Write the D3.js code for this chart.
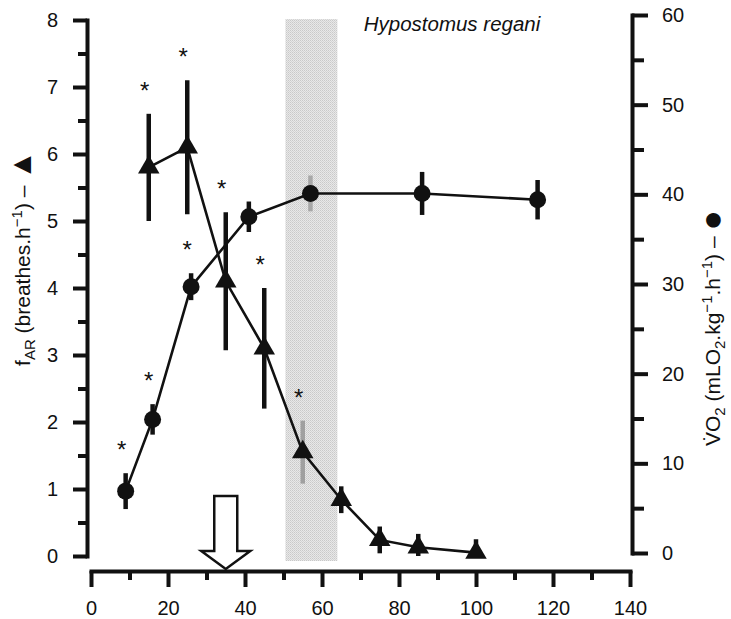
<!DOCTYPE html>
<html>
<head>
<meta charset="utf-8">
<script src="https://cdn.jsdelivr.net/npm/d3@7"></script>
<style>
  body { margin: 0; background: #fff; }
  text { font-family: "Liberation Sans", Arial, sans-serif; }
</style>
</head>
<body>
<script>
// fAR (triangles, left axis)
var farX   = [15, 25, 35, 45, 55, 65, 75, 85, 100];
var farY   = [5.8, 6.1, 4.1, 3.1, 1.55, 0.84, 0.24, 0.13, 0.05];
var farErr = [0.8, 1.0, 1.03, 0.9, 0.47, 0.2, 0.2, 0.2, 0.2];
var farSig = [1, 1, 1, 1, 1, 0, 0, 0, 0];

// VO2 (circles, right axis)
var vo2X   = [9, 16, 26, 41, 57, 86, 116];
var vo2Y   = [6.9, 14.9, 29.7, 37.5, 40.1, 40.1, 39.4];
var vo2Err = [2.0, 1.7, 1.5, 1.7, 2.0, 2.4, 2.2];
var vo2Sig = [1, 1, 1, 0, 0, 0, 0];

var band = [50.5, 64];   // shaded range on x
var arrowAt = 35;

var xTicks = [0, 20, 40, 60, 80, 100, 120, 140];
var xMinor = [10, 30, 50, 70, 90, 110, 130];
var leftTicks = [0, 1, 2, 3, 4, 5, 6, 7, 8];
var leftMinor = [0.5, 1.5, 2.5, 3.5, 4.5, 5.5, 6.5, 7.5];
var rightTicks = [0, 10, 20, 30, 40, 50, 60];
var rightMinor = [5, 15, 25, 35, 45, 55];

var width = 731, height = 619;
var ink = '#111';

var svg = d3.select('body').append('svg')
    .attr('width', width)
    .attr('height', height);

var x = d3.scaleLinear().domain([0, 140]).range([91, 630]);
var yL = d3.scaleLinear().domain([0, 8]).range([556, 20]);
var yR = d3.scaleLinear().domain([0, 60]).range([553, 15]);
var baseY = 571, leftX = 87, rightX = 632;

// stippled band
var pat = svg.append('defs').append('pattern')
    .attr('id', 'dots').attr('width', 2).attr('height', 2)
    .attr('patternUnits', 'userSpaceOnUse');
pat.append('rect').attr('width', 2).attr('height', 2).attr('fill', '#e8e8e8');
pat.append('rect').attr('width', 1).attr('height', 1).attr('fill', '#c9c9c9');
pat.append('rect').attr('x', 1).attr('y', 1).attr('width', 1).attr('height', 1).attr('fill', '#d4d4d4');

svg.append('rect')
    .attr('x', x(band[0]))
    .attr('y', yL(8) - 1)
    .attr('width', x(band[1]) - x(band[0]))
    .attr('height', yL(0) - yL(8) + 6)
    .attr('fill', 'url(#dots)');

// axes
function styleAxis(g) {
  g.select('.domain').attr('stroke', ink).attr('stroke-width', 4).attr('stroke-linecap', 'square');
  g.selectAll('.tick line').attr('stroke', ink).attr('stroke-width', 4);
  g.selectAll('.tick text').attr('font-size', 20).attr('fill', ink)
    .attr('font-family', '"Liberation Sans", Arial, sans-serif');
}
function minorAxis(g) {
  g.select('.domain').remove();
  g.selectAll('.tick line').attr('stroke', ink).attr('stroke-width', 4);
}

svg.append('g').attr('transform', 'translate(' + leftX + ',0)')
    .call(d3.axisLeft(yL).tickValues(leftMinor).tickSize(9).tickFormat(''))
    .call(minorAxis);
svg.append('g').attr('transform', 'translate(' + leftX + ',0)')
    .call(d3.axisLeft(yL).tickValues(leftTicks).tickSize(14).tickSizeOuter(0).tickPadding(15))
    .call(styleAxis);

svg.append('g').attr('transform', 'translate(' + rightX + ',0)')
    .call(d3.axisRight(yR).tickValues(rightMinor).tickSize(12).tickFormat(''))
    .call(minorAxis);
svg.append('g').attr('transform', 'translate(' + rightX + ',0)')
    .call(d3.axisRight(yR).tickValues(rightTicks).tickSize(16).tickSizeOuter(0).tickPadding(14))
    .call(styleAxis);

svg.append('g').attr('transform', 'translate(0,' + baseY + ')')
    .call(d3.axisBottom(x).tickValues(xMinor).tickSize(9).tickFormat(''))
    .call(minorAxis);
svg.append('g').attr('transform', 'translate(0,' + baseY + ')')
    .call(d3.axisBottom(x).tickValues(xTicks).tickSize(16).tickSizeOuter(0).tickPadding(14))
    .call(styleAxis);

// series tables
var far = farX.map(function(d, i) { return {x: d, y: farY[i], e: farErr[i], sig: farSig[i]}; });
var vo2 = vo2X.map(function(d, i) { return {x: d, y: vo2Y[i], e: vo2Err[i], sig: vo2Sig[i]}; });

function inBand(d) { return d.x > band[0] && d.x < band[1]; }

// error bars
svg.append('g').selectAll('line').data(far).enter().append('line')
    .attr('x1', function(d) { return x(d.x); })
    .attr('x2', function(d) { return x(d.x); })
    .attr('y1', function(d) { return yL(d.y + d.e); })
    .attr('y2', function(d) { return yL(Math.max(0, d.y - d.e)); })
    .attr('stroke', function(d) { return inBand(d) ? '#a0a0a0' : ink; })
    .attr('stroke-width', 4.5);

svg.append('g').selectAll('line').data(vo2).enter().append('line')
    .attr('x1', function(d) { return x(d.x); })
    .attr('x2', function(d) { return x(d.x); })
    .attr('y1', function(d) { return yR(d.y + d.e); })
    .attr('y2', function(d) { return yR(Math.max(0, d.y - d.e)); })
    .attr('stroke', function(d) { return inBand(d) ? '#a8a8a8' : ink; })
    .attr('stroke-width', 4.5);

// lines
svg.append('path').datum(far)
    .attr('fill', 'none').attr('stroke', ink).attr('stroke-width', 2.6)
    .attr('d', d3.line().x(function(d) { return x(d.x); }).y(function(d) { return yL(d.y); }));
svg.append('path').datum(vo2)
    .attr('fill', 'none').attr('stroke', ink).attr('stroke-width', 2.6)
    .attr('d', d3.line().x(function(d) { return x(d.x); }).y(function(d) { return yR(d.y); }));

// markers
svg.append('g').selectAll('path').data(far).enter().append('path')
    .attr('transform', function(d) { return 'translate(' + x(d.x) + ',' + yL(d.y) + ')'; })
    .attr('d', d3.symbol(d3.symbolTriangle, 200))
    .attr('fill', ink);
svg.append('g').selectAll('circle').data(vo2).enter().append('circle')
    .attr('cx', function(d) { return x(d.x); })
    .attr('cy', function(d) { return yR(d.y); })
    .attr('r', 8.5)
    .attr('fill', ink);

// significance asterisks
function star(sel, data, ys) {
  sel.selectAll('text').data(data.filter(function(d) { return d.sig; })).enter().append('text')
      .attr('x', function(d) { return x(d.x) - 4; })
      .attr('y', function(d) { return ys(d.y + d.e) - 15; })
      .attr('text-anchor', 'middle')
      .attr('font-size', 24)
      .attr('fill', ink)
      .text('*');
}
star(svg.append('g'), far, yL);
star(svg.append('g'), vo2, yR);

// open arrow
var ax = x(arrowAt);
svg.append('path')
    .attr('d', 'M' + (ax - 11.5) + ',' + (baseY - 75) + 'H' + (ax + 11.5) + 'V' + (baseY - 20) +
               'H' + (ax + 24.5) + 'L' + ax + ',' + (baseY - 2) + 'L' + (ax - 24.5) + ',' + (baseY - 20) +
               'H' + (ax - 11.5) + 'Z')
    .attr('fill', '#fff').attr('stroke', ink).attr('stroke-width', 2.5)
    .attr('stroke-linejoin', 'miter');

// title
svg.append('text')
    .attr('x', 452).attr('y', 31)
    .attr('text-anchor', 'middle')
    .attr('font-size', 20.5)
    .attr('font-style', 'italic')
    .attr('fill', ink)
    .text('Hypostomus regani');

// left axis label
var lt = svg.append('text')
    .attr('transform', 'translate(30,258) rotate(-90)')
    .attr('text-anchor', 'middle')
    .attr('font-size', 21)
    .attr('fill', ink);
lt.append('tspan').text('f');
lt.append('tspan').attr('dy', 5).attr('font-size', 15).text('AR');
lt.append('tspan').attr('dy', -5).text(' (breathes.h');
lt.append('tspan').attr('dy', -8).attr('font-size', 15).text('\u22121');
lt.append('tspan').attr('dy', 8).text(') \u2013 ');
lt.append('tspan').attr('font-size', 30).attr('dy', 1).text('\u25B2');

// right axis label
var rt = svg.append('text')
    .attr('transform', 'translate(720,328) rotate(-90)')
    .attr('text-anchor', 'middle')
    .attr('font-size', 21)
    .attr('fill', ink);
rt.append('tspan').text('V\u0307O');
rt.append('tspan').attr('dy', 5).attr('font-size', 15).text('2');
rt.append('tspan').attr('dy', -5).text(' (mLO');
rt.append('tspan').attr('dy', 5).attr('font-size', 15).text('2');
rt.append('tspan').attr('dy', -5).text('.kg');
rt.append('tspan').attr('dy', -8).attr('font-size', 15).text('\u22121');
rt.append('tspan').attr('dy', 8).text('.h');
rt.append('tspan').attr('dy', -8).attr('font-size', 15).text('\u22121');
rt.append('tspan').attr('dy', 8).text(') \u2013 ');
rt.append('tspan').attr('font-size', 34).attr('dy', 3).text('\u25CF');
</script>
</body>
</html>
